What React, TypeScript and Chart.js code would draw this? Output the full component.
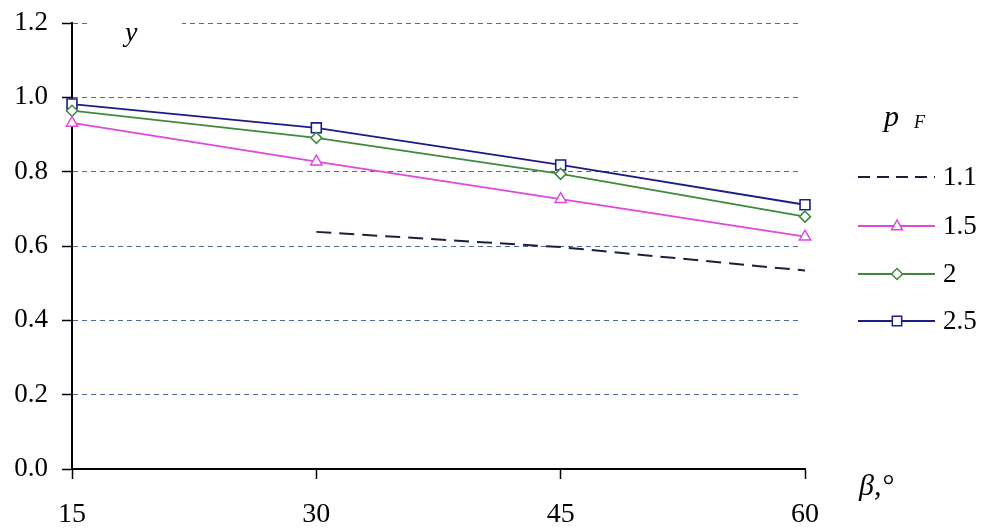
import React, { useEffect, useRef } from "react";
import { Chart, registerables } from "chart.js";

Chart.register(...registerables);

const categories = ["15", "30", "45", "60"];
const seriesLabels = ["1.1", "1.5", "2", "2.5"];
const series11 = [null, 0.638, 0.597, 0.534];
const series15 = [0.931, 0.827, 0.726, 0.625];
const series2 = [0.964, 0.891, 0.794, 0.679];
const series25 = [0.982, 0.918, 0.818, 0.711];
const yMin = 0;
const yMax = 1.2;
const yStep = 0.2;

const SERIF = "'Liberation Serif', 'Times New Roman', serif";
const gridColor = "#50689c";

function drawMarker(ctx: CanvasRenderingContext2D, style: string, x: number, y: number, r: number) {
  ctx.beginPath();
  if (style === "triangle") {
    ctx.moveTo(x, y - r * 1.1);
    ctx.lineTo(x + r, y + r * 0.7);
    ctx.lineTo(x - r, y + r * 0.7);
    ctx.closePath();
  } else if (style === "rectRot") {
    ctx.moveTo(x, y - r);
    ctx.lineTo(x + r, y);
    ctx.lineTo(x, y + r);
    ctx.lineTo(x - r, y);
    ctx.closePath();
  } else if (style === "rect") {
    ctx.rect(x - r * 0.85, y - r * 0.85, r * 1.7, r * 1.7);
  }
  ctx.fillStyle = "#fff";
  ctx.fill();
  ctx.stroke();
}

const decorPlugin = {
  id: "decor",
  beforeDatasetsDraw(chart: any) {
    const ctx = chart.ctx as CanvasRenderingContext2D;
    const top = chart.chartArea.top;
    ctx.save();
    ctx.fillStyle = "#fff";
    ctx.fillRect(90, top - 5, 92, 10);
    ctx.fillRect(798, top - 5, 10, chart.chartArea.bottom - top - 4);
    ctx.restore();
  },
  afterDraw(chart: any) {
    const ctx = chart.ctx as CanvasRenderingContext2D;
    ctx.save();
    ctx.fillStyle = "#000";
    ctx.textBaseline = "alphabetic";
    ctx.textAlign = "left";
    ctx.font = `italic 28px ${SERIF}`;
    ctx.fillText("y", 125, 41);
    ctx.font = `italic 30px ${SERIF}`;
    ctx.fillText("β,°", 859, 495);
    ctx.font = `italic 30px ${SERIF}`;
    ctx.fillText("p", 884, 126);
    ctx.font = `italic 18px ${SERIF}`;
    ctx.fillText("F", 914, 128);
    const rows = [177, 226, 274, 321];
    chart.data.datasets.forEach((ds: any, i: number) => {
      const y = rows[i];
      ctx.save();
      ctx.strokeStyle = ds.borderColor;
      ctx.lineWidth = ds.borderWidth;
      ctx.setLineDash(ds.borderDash ? [12, 7] : []);
      ctx.beginPath();
      ctx.moveTo(858, y);
      ctx.lineTo(935, y);
      ctx.stroke();
      ctx.setLineDash([]);
      if (ds.pointRadius > 0) {
        ctx.lineWidth = 1.5;
        drawMarker(ctx, ds.pointStyle, 897, y, 5.5);
      }
      ctx.restore();
      ctx.fillStyle = "#000";
      ctx.font = `27px ${SERIF}`;
      ctx.textBaseline = "middle";
      ctx.fillText(ds.label, 943, y + 1);
    });
    ctx.restore();
  },
};

export default function App() {
  const ref = useRef<HTMLCanvasElement | null>(null);
  useEffect(() => {
    if (!ref.current) return;
    const chart = new Chart(ref.current, {
      type: "line",
      data: {
        labels: categories,
        datasets: [
          {
            label: seriesLabels[0],
            data: series11,
            borderColor: "#1e1e3c",
            borderWidth: 2,
            borderDash: [15, 8],
            pointRadius: 0,
            spanGaps: false,
          },
          {
            label: seriesLabels[1],
            data: series15,
            borderColor: "#dd48dd",
            borderWidth: 1.8,
            pointStyle: "triangle",
            pointRadius: 6.5,
            pointBorderWidth: 1.5,
            pointBackgroundColor: "#fff",
          },
          {
            label: seriesLabels[2],
            data: series2,
            borderColor: "#3d8a3d",
            borderWidth: 1.8,
            pointStyle: "rectRot",
            pointRadius: 5.5,
            pointBorderWidth: 1.5,
            pointBackgroundColor: "#fff",
          },
          {
            label: seriesLabels[3],
            data: series25,
            borderColor: "#1c1c86",
            borderWidth: 1.8,
            pointStyle: "rect",
            pointRadius: 7,
            pointBorderWidth: 1.6,
            pointBackgroundColor: "#fff",
          },
        ] as any,
      },
      options: {
        animation: false,
        responsive: true,
        maintainAspectRatio: false,
        layout: { padding: { left: 0, right: 189, top: 23, bottom: 0 } },
        plugins: {
          legend: { display: false },
          tooltip: { enabled: false },
          title: { display: false },
        },
        scales: {
          x: {
            type: "category",
            offset: false,
            grid: {
              drawOnChartArea: false,
              drawTicks: true,
              tickLength: 10,
              tickColor: "#000",
              tickWidth: 1.5,
            },
            border: { display: true, color: "#000", width: 2 },
            ticks: {
              color: "#000",
              font: { family: SERIF, size: 28 },
              padding: 19,
              maxRotation: 0,
              autoSkip: false,
            },
            afterFit: (s: any) => {
              s.height = 63;
              s.paddingLeft = 0;
              s.paddingRight = 0;
            },
          },
          y: {
            min: yMin,
            max: yMax,
            grid: {
              drawOnChartArea: true,
              color: (c: any) => (c.tick && c.tick.value === 0 ? "rgba(0,0,0,0)" : gridColor),
              lineWidth: 1,
              drawTicks: true,
              tickLength: 10,
              tickColor: "#000",
              tickWidth: 1.5,
            },
            border: { display: true, color: "#000", width: 2, dash: [5, 4] },
            ticks: {
              stepSize: yStep,
              color: "#000",
              font: { family: SERIF, size: 27 },
              padding: 14,
              callback: (v: any) => Number(v).toFixed(1),
            },
            afterFit: (s: any) => {
              s.width = 72;
              s.paddingTop = 0;
              s.paddingBottom = 0;
            },
          },
        },
      } as any,
      plugins: [decorPlugin],
    });
    return () => chart.destroy();
  }, []);
  return (
    <div style={{ position: "fixed", left: 0, top: 0, width: 994, height: 532, background: "#fff" }}>
      <canvas ref={ref} />
    </div>
  );
}
